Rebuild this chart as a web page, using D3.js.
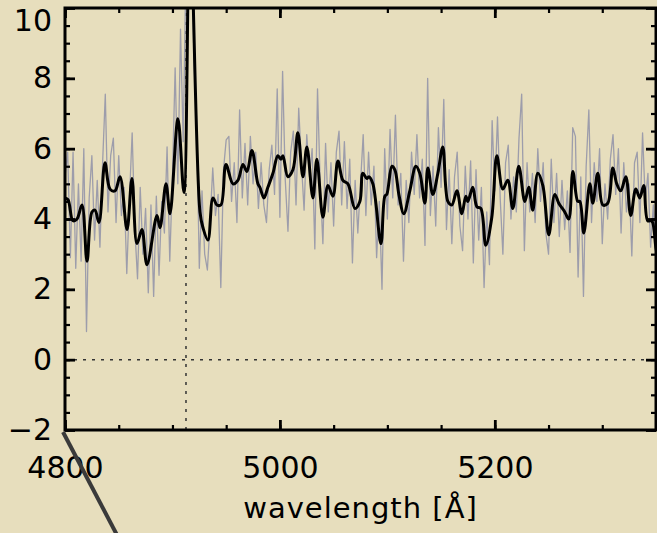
<!DOCTYPE html>
<html><head><meta charset="utf-8">
<script src="https://cdn.jsdelivr.net/npm/d3@7"></script>
<style>html,body{margin:0;padding:0;background:#e7debd;} svg{display:block}</style>
</head><body><svg id="c" width="657" height="533"></svg>
<script>
// ---- data ----
const yMajorTicks = [-2, 0, 2, 4, 6, 8, 10];
const xMajorTicks = [4800, 5000, 5200];
const xTitle = "wavelength [Å]";
const lyaWave = 4912.6;
const rawWaveStart = 4800, rawWaveStep = 2.5;
const rawFlux = [
 5.2,5.9,2.9,5.9,2.6,5.0,2.8,6.0,0.8,4.6,
 5.8,3.4,5.1,3.2,5.6,7.55,4.2,5.8,6.3,3.9,
 5.8,4.1,4.9,2.45,4.6,6.45,3.7,2.3,4.9,3.0,
 4.3,1.9,4.4,1.8,4.65,2.4,4.5,3.6,6.05,2.8,
 5.2,8.3,5.0,9.4,6.2,11.0,13.5,13.0,8.5,6.8,
 2.6,4.8,3.0,2.55,3.9,5.45,4.1,4.7,2.05,5.4,
 6.25,6.35,4.5,5.6,3.9,7.1,4.6,6.15,4.4,6.35,
 5.0,5.9,4.3,5.6,4.4,3.9,5.4,6.1,4.7,7.7,
 4.05,8.2,5.1,3.65,5.9,6.5,4.4,7.15,5.6,4.25,
 6.4,5.2,6.0,3.15,7.7,5.0,3.3,6.15,4.2,5.6,
 3.8,5.9,6.5,4.4,6.2,4.3,5.7,2.75,5.1,3.6,
 5.0,6.4,4.1,5.9,4.4,5.5,2.9,4.5,2.0,6.0,
 4.0,6.55,4.6,6.95,4.4,5.3,2.8,5.1,3.9,5.9,
 4.7,6.4,4.6,5.7,3.25,8.0,4.1,5.5,3.8,6.6,
 4.9,7.4,3.7,5.4,3.3,5.2,5.9,3.8,3.1,5.5,
 4.0,5.65,2.75,5.4,3.4,4.9,2.05,4.2,2.7,6.8,
 4.8,6.9,4.6,3.0,5.6,6.1,4.0,5.2,4.2,6.3,
 7.55,3.1,5.6,4.2,5.3,3.9,6.0,4.5,5.6,3.6,
 3.0,5.7,3.9,5.3,3.5,5.1,3.7,4.8,3.05,6.6,
 6.35,2.35,5.2,1.8,5.5,7.1,3.9,5.6,4.5,6.0,
 3.3,5.0,4.0,5.7,6.4,4.7,6.0,3.6,5.6,4.2,
 5.0,2.95,5.6,5.9,3.9,6.45,4.5,5.3,3.2,4.4,
 2.9
];
const smoothWave = [
 4800,4802.8,4807.4,4811.2,4815.8,4820.5,4825.1,4827.9,4831.6,4837.2,
 4841.9,4846.5,4851.2,4857.7,4862.3,4867.0,4871.6,4876.3,4885.6,4888.4,
 4894.0,4897.7,4905.1,4910.7,4916.3,4925.6,4928.4,4933.0,4937.7,4941.4,
 4945.1,4949.8,4956.3,4960.9,4965.6,4969.3,4974.0,4979.5,4981.4,4985.1,
 4988.8,4993.5,4998.1,5000.9,5002.8,5007.4,5012.1,5016.7,5021.4,5025.1,
 5030.7,5034.4,5040.0,5044.7,5049.3,5054.0,5058.6,5063.3,5069.8,5074.4,
 5077.2,5080.9,5082.8,5086.5,5094.0,5097.7,5099.5,5104.2,5107.0,5110.7,
 5115.3,5120.9,5126.5,5130.2,5134.9,5137.7,5142.3,5147.0,5151.6,5156.3,
 5160.0,5164.7,5169.3,5173.0,5174.9,5179.5,5183.3,5187.0,5191.6,5197.2,
 5201.9,5207.4,5212.1,5216.7,5222.3,5227.9,5231.6,5235.3,5240.0,5244.7,
 5250.2,5255.8,5259.5,5265.1,5268.8,5272.6,5277.2,5279.1,5282.8,5288.4,
 5291.2,5295.8,5300.5,5305.1,5309.8,5313.5,5317.2,5321.9,5326.5,5331.2,
 5334.9,5338.6,5342.3,5346.0,5349.8,5351.0
];
const smoothFlux = [
 4.6,4.55,3.95,4.0,4.4,2.8,4.2,4.25,3.9,5.6,
 4.85,4.8,5.2,3.7,5.15,3.3,3.7,2.7,4.1,3.75,
 5.0,4.15,6.85,4.75,12.5,4.2,3.75,3.4,4.6,4.4,
 4.4,5.55,5.0,5.1,5.55,5.35,5.95,5.0,4.9,4.6,
 4.9,5.3,5.8,5.7,5.8,5.2,5.4,6.45,5.2,6.05,
 4.6,5.7,4.05,4.95,4.65,5.65,5.1,5.0,4.3,4.5,
 5.3,5.15,5.2,5.0,3.3,4.65,4.7,5.5,5.4,4.7,
 4.15,4.8,5.5,5.3,4.45,5.45,4.7,5.3,6.05,4.5,
 4.4,4.8,4.15,4.65,4.5,4.9,4.35,4.3,3.25,4.05,
 5.8,4.85,5.1,4.3,5.5,4.5,4.9,4.25,5.3,4.95,
 3.55,4.7,4.45,4.2,4.0,5.35,4.5,4.5,3.6,5.0,
 4.45,5.3,4.4,4.45,5.45,5.0,4.8,5.2,4.1,4.85,
 4.6,4.95,3.95,3.95,3.2,3.0
];

// ---- layout ----
const W = 657, H = 533;
const pLeft = 65, pRight = 656, pTop = 8, pBottom = 430;
const x = d3.scaleLinear().domain([4800, 5350]).range([pLeft, pRight]);
const y = d3.scaleLinear().domain([-2, 10]).range([pBottom, pTop]);
const svg = d3.select("#c");
const FONT = "'DejaVu Sans', sans-serif";

svg.append("rect").attr("width", W).attr("height", H).attr("fill", "#e7debd");

svg.append("defs").append("clipPath").attr("id", "clip")
  .append("rect").attr("x", pLeft).attr("y", pTop).attr("width", pRight - pLeft).attr("height", pBottom - pTop);

const plot = svg.append("g").attr("clip-path", "url(#clip)");

// dotted reference lines
plot.append("line")
  .attr("x1", x(4800)).attr("x2", x(5350)).attr("y1", y(0)).attr("y2", y(0))
  .attr("stroke", "#333").attr("stroke-width", 1.5).attr("stroke-dasharray", "3,6");
plot.append("line")
  .attr("x1", x(lyaWave)).attr("x2", x(lyaWave)).attr("y1", y(-2)).attr("y2", y(10))
  .attr("stroke", "#333").attr("stroke-width", 1.5).attr("stroke-dasharray", "3,6");

// raw spectrum
const rawData = rawFlux.map((f, i) => [rawWaveStart + i * rawWaveStep, f]);
plot.append("path").datum(rawData)
  .attr("fill", "none").attr("stroke", "#9d9dab").attr("stroke-width", 1.3)
  .attr("stroke-linejoin", "round")
  .attr("d", d3.line().x(d => x(d[0])).y(d => y(d[1])));

// smoothed spectrum
const smoothData = smoothWave.map((w, i) => [w, smoothFlux[i]]);
plot.append("path").datum(smoothData)
  .attr("fill", "none").attr("stroke", "#000").attr("stroke-width", 3)
  .attr("stroke-linejoin", "round")
  .attr("d", d3.line().curve(d3.curveCatmullRom.alpha(0.5)).x(d => x(d[0])).y(d => y(d[1])));

// axes
const yMinor = d3.range(-2, 10.01, 0.5);
const xMinor = d3.range(4800, 5351, 50);

function styleAxis(g, w) {
  g.select(".domain").remove();
  g.selectAll(".tick line").attr("stroke", "#000").attr("stroke-width", w);
}

// left
svg.append("g").attr("transform", `translate(${pLeft},0)`)
  .call(d3.axisLeft(y).tickValues(yMinor).tickSizeInner(-5).tickSizeOuter(0).tickFormat(""))
  .call(g => styleAxis(g, 2.2));
const yAx = svg.append("g").attr("transform", `translate(${pLeft},0)`)
  .call(d3.axisLeft(y).tickValues(yMajorTicks).tickSizeInner(-10).tickSizeOuter(0).tickPadding(13))
  .call(g => styleAxis(g, 2.8));
yAx.selectAll("text").attr("font-family", FONT).attr("font-size", 30).attr("fill", "#000");
yAx.selectAll(".tick").filter(d => d === 10).select("text").attr("y", 13);

// right
svg.append("g").attr("transform", `translate(${pRight},0)`)
  .call(d3.axisRight(y).tickValues(yMinor).tickSizeInner(-5).tickSizeOuter(0).tickFormat(""))
  .call(g => styleAxis(g, 2.2));
svg.append("g").attr("transform", `translate(${pRight},0)`)
  .call(d3.axisRight(y).tickValues(yMajorTicks).tickSizeInner(-10).tickSizeOuter(0).tickFormat(""))
  .call(g => styleAxis(g, 2.8));

// bottom
svg.append("g").attr("transform", `translate(0,${pBottom})`)
  .call(d3.axisBottom(x).tickValues(xMinor).tickSizeInner(-5).tickSizeOuter(0).tickFormat(""))
  .call(g => styleAxis(g, 2.2));
const xAx = svg.append("g").attr("transform", `translate(0,${pBottom})`)
  .call(d3.axisBottom(x).tickValues(xMajorTicks).tickSizeInner(-10).tickSizeOuter(0).tickPadding(27).tickFormat(d3.format("d")))
  .call(g => styleAxis(g, 2.8));
xAx.selectAll("text").attr("font-family", FONT).attr("font-size", 30).attr("fill", "#000");

// top
svg.append("g").attr("transform", `translate(0,${pTop})`)
  .call(d3.axisTop(x).tickValues(xMinor).tickSizeInner(-5).tickSizeOuter(0).tickFormat(""))
  .call(g => styleAxis(g, 2.2));
svg.append("g").attr("transform", `translate(0,${pTop})`)
  .call(d3.axisTop(x).tickValues(xMajorTicks).tickSizeInner(-10).tickSizeOuter(0).tickFormat(""))
  .call(g => styleAxis(g, 2.8));

// frame
svg.append("rect").attr("x", pLeft).attr("y", pTop).attr("width", pRight - pLeft).attr("height", pBottom - pTop)
  .attr("fill", "none").attr("stroke", "#000").attr("stroke-width", 3);

// axis title
svg.append("text").attr("x", (pLeft + pRight) / 2).attr("y", 518)
  .attr("text-anchor", "middle").attr("font-family", FONT).attr("font-size", 29)
  .attr("letter-spacing", 1).attr("fill", "#000").text(xTitle);

// pointer line
svg.append("line")
  .attr("x1", x(4800) - 2).attr("y1", y(-2) + 2).attr("x2", 117).attr("y2", H + 2)
  .attr("stroke", "#3a3a3a").attr("stroke-width", 4);
</script>
</body></html>
